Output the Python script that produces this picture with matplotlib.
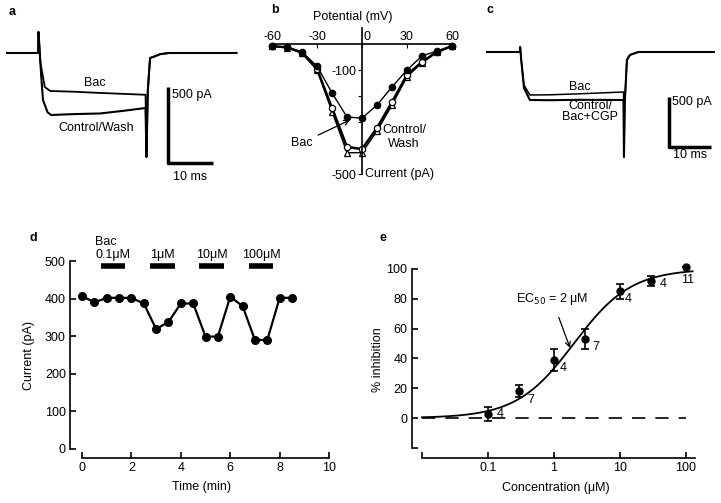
import numpy as np
import matplotlib
matplotlib.use("Agg")
import matplotlib.pyplot as plt
import matplotlib.transforms as mtransforms

plt.rcParams['font.family'] = ['Liberation Sans', 'DejaVu Sans']
plt.rcParams['font.size'] = 9

# ---- panel a: current traces (ms, pA)
a_t_bac = [0, 6.9, 7.0, 7.4, 8.4, 9.6, 15, 20, 25, 30.8, 31.0, 31.3, 31.8, 32.6, 34, 36, 51]
a_i_bac = [0, 0, 138, -60, -224, -250, -255, -262, -268, -275, -684, -250, -33, -25, -8, 0, 0]
a_t_ctl = [0, 6.9, 7.0, 7.6, 8.0, 9.0, 9.8, 15, 20.7, 26, 30.8, 31.0, 31.3, 31.8, 32.6, 34, 36, 51]
a_i_ctl = [0, 0, 138, -150, -309, -390, -408, -402, -398, -380, -362, -684, -250, -33, -25, -8, 0, 0]

# ---- panel c: current traces (ms, pA)
c_t_bac = [0, 7.8, 7.9, 8.1, 8.8, 10.2, 15, 22, 32.5, 32.6, 32.8, 33.3, 34, 36, 54]
c_i_bac = [0, 0, 50, -60, -330, -430, -428, -418, -400, -1050, -500, -80, -30, 0, 0]
c_t_ctl = [0, 7.8, 7.9, 8.1, 8.8, 10.2, 15, 22, 32.5, 32.6, 32.8, 33.3, 34, 36, 54]
c_i_ctl = [0, 0, 50, -60, -360, -480, -482, -478, -480, -1050, -500, -80, -30, 0, 0]

# ---- panel b: I-V relation
potential = [-60, -50, -40, -30, -20, -10, 0, 10, 20, 30, 40, 50, 60]
iv_bac = [-8, -12, -31, -85, -188, -281, -285, -235, -165, -100, -46, -27, -8]
iv_control = [-8, -13, -33, -96, -246, -396, -404, -323, -223, -119, -69, -30, -8]
iv_wash = [-9, -14, -35, -100, -260, -418, -418, -335, -235, -126, -72, -32, -9]

# ---- panel d: time course
time_min = [0, 0.5, 1, 1.5, 2, 2.5, 3, 3.5, 4, 4.5, 5, 5.5, 6, 6.5, 7, 7.5, 8, 8.5]
current_pa = [407, 390, 402, 402, 402, 387, 319, 338, 387, 387, 299, 299, 405, 380, 290, 290, 402, 402]
bar_start = [0.75, 2.75, 4.75, 6.75]
bar_end = [1.75, 3.75, 5.75, 7.75]
bar_labels = ['0.1\u03bcM', '1\u03bcM', '10\u03bcM', '100\u03bcM']

# ---- panel e: concentration-response
conc = [0.1, 0.3, 1, 3, 10, 30, 100]
inhib = [2.7, 18, 39, 53, 85, 92, 101]
inhib_err = [4.5, 4, 7.5, 7, 5, 3.5, 0]
n_cells = ['4', '7', '4', '7', '4', '4', '11']
ec50 = 2.0
hill = 1.0
top = 100.0

W, H = 721, 503
fig = plt.figure(figsize=(W / 100, H / 100), dpi=100)


def px_axes(x0, y0, x1, y1):
    return fig.add_axes([x0 / W, 1 - y1 / H, (x1 - x0) / W, (y1 - y0) / H])


# panel a
ax = px_axes(0, 20, 240, 180)
ax.plot(a_t_ctl, a_i_ctl, color='k', lw=1.5)
ax.plot(a_t_bac, a_i_bac, color='k', lw=1.3)
ax.plot([35.8, 35.8, 45.8], [-224, -724, -724], color='k', lw=2.5, solid_capstyle='butt')
ax.text(19.6, -197, 'Bac', ha='center', va='center')
ax.text(19.8, -493, 'Control/Wash', ha='center', va='center')
ax.text(36.6, -276, '500 pA', ha='left', va='center')
ax.text(40.7, -816, '10 ms', ha='center', va='center')
ax.set_xlim(-1.56, 51.8)
ax.set_ylim(-835.7, 217)
ax.axis('off')

# panel c
ax = px_axes(470, 20, 721, 180)
ax.plot(c_t_ctl, c_i_ctl, color='k', lw=1.5)
ax.plot(c_t_bac, c_i_bac, color='k', lw=1.1)
ax.plot([43.3, 43.3, 53.3], [-450, -950, -950], color='k', lw=2.5, solid_capstyle='butt')
ax.text(22.1, -350, 'Bac', ha='center', va='center')
ax.text(24.5, -540, 'Control/', ha='center', va='center')
ax.text(24.5, -650, 'Bac+CGP', ha='center', va='center')
ax.text(44.1, -500, '500 pA', ha='left', va='center')
ax.text(48.3, -1030, '10 ms', ha='center', va='center')
ax.set_xlim(-4.05, 55.7)
ax.set_ylim(-1280, 320)
ax.axis('off')

# panel b
ax = px_axes(262, 40, 462, 180)
ax.plot(potential, iv_wash, color='k', lw=1.0, marker='^', mfc='white', mec='k', ms=4.5, mew=0.9)
ax.plot(potential, iv_control, color='k', lw=1.8, marker='o', mfc='white', mec='k', ms=4.5, mew=0.9)
ax.plot(potential, iv_bac, color='k', lw=1.0, marker='o', mfc='k', mec='k', ms=4.5)
ax.set_xlim(-66.7, 66.7)
ax.set_ylim(-523, 15.4)
for s in ['right', 'bottom']:
    ax.spines[s].set_visible(False)
ax.spines['top'].set_position(('data', 0))
ax.spines['top'].set_bounds(-60, 60)
ax.spines['left'].set_position(('data', 0))
ax.spines['left'].set_bounds(-500, 60)
ax.spines['top'].set_linewidth(1.2)
ax.spines['left'].set_linewidth(1.2)
ax.xaxis.tick_top()
ax.set_xticks([-60, -30, 0, 30, 60])
ax.set_xticklabels(['-60', '-30', '0', '30', '60'])
ax.tick_params(axis='x', direction='in', length=3, pad=1, labelsize=9)
ax.set_yticks([-500, -400, -300, -200, -100])
ax.set_yticklabels(['-500', '', '', '', '-100'])
ax.tick_params(axis='y', direction='out', length=3, pad=1, labelsize=9)
zero_lbl = ax.get_xticklabels()[2]
zero_lbl.set_transform(zero_lbl.get_transform() + mtransforms.ScaledTranslation(5 / 100, 0, fig.dpi_scale_trans))
fig.text(353 / W, 1 - 17 / H, 'Potential (mV)', ha='center', va='center')
ax.text(2, -500, 'Current (pA)', ha='left', va='center')
ax.annotate('Bac', xy=(-8, -292), xytext=(-40, -380), ha='center', va='center',
            arrowprops=dict(arrowstyle='->', color='k', lw=0.9, shrinkA=2, shrinkB=0))
ax.text(28, -330, 'Control/', ha='center', va='center')
ax.text(28, -385, 'Wash', ha='center', va='center')
ax.set_facecolor('none')

# panel d
ax = px_axes(70, 253.5, 334, 458)
ax.plot(time_min, current_pa, color='k', lw=1.6, marker='o', ms=5.5)
for x0, x1, lbl in zip(bar_start, bar_end, bar_labels):
    ax.plot([x0, x1], [488, 488], color='k', lw=4, solid_capstyle='butt', clip_on=False)
    ax.text((x0 + x1) / 2, 516, lbl, ha='center', va='center', clip_on=False)
ax.text(0.53, 550, 'Bac', ha='left', va='center', clip_on=False)
ax.set_xlim(-0.486, 10.2)
ax.set_ylim(-24, 520)
for s in ['right', 'top']:
    ax.spines[s].set_visible(False)
ax.spines['left'].set_bounds(0, 500)
ax.spines['bottom'].set_bounds(0, 10)
ax.spines['left'].set_linewidth(1.2)
ax.spines['bottom'].set_linewidth(1.2)
ax.set_xticks([0, 2, 4, 6, 8, 10])
ax.set_yticks([0, 100, 200, 300, 400, 500])
ax.tick_params(direction='in', length=4, width=1.2, labelsize=9, pad=3)
ax.set_xlabel('Time (min)', labelpad=5)
ax.set_ylabel('Current (pA)', labelpad=7)
ax.set_facecolor('none')

# panel e
ax = px_axes(411.7, 261.5, 700, 458)
xs = np.logspace(-2, 2.1, 200)
ax.plot(xs, top / (1 + (ec50 / xs) ** hill), color='k', lw=1.3)
ax.plot([0.01, 100], [0, 0], color='k', lw=1.2, dashes=(8, 6))
ax.errorbar(conc, inhib, yerr=inhib_err, fmt='o', color='k', ms=5, capsize=3, elinewidth=1.2, capthick=1.2)
offsets = [(9, 0), (8, -9), (6, -8), (7, -8), (5, -8), (8, -3), (2, -13)]
for x, y, n, (dx, dy) in zip(conc, inhib, n_cells, offsets):
    ax.annotate(n, xy=(x, y), xytext=(dx * 0.72, dy * 0.72), textcoords='offset points',
                ha='left' if n != '11' else 'center', va='center')
ax.annotate('EC$_{50}$ = 2 \u03bcM', xy=(1.75, 47), xytext=(0.93, 80), ha='center', va='center',
            arrowprops=dict(arrowstyle='->', color='k', lw=0.9, shrinkA=6, shrinkB=0))
ax.set_xscale('log')
ax.set_xlim(0.00698, 163)
ax.set_ylim(-26.8, 105)
for s in ['right', 'top']:
    ax.spines[s].set_visible(False)
ax.spines['left'].set_bounds(-20, 100)
ax.spines['bottom'].set_bounds(0.01, 135)
ax.spines['left'].set_linewidth(1.2)
ax.spines['bottom'].set_linewidth(1.2)
ax.set_xticks([0.01, 0.1, 1, 10, 100])
ax.set_xticklabels(['', '0.1', '1', '10', '100'])
ax.xaxis.set_minor_locator(matplotlib.ticker.NullLocator())
ax.set_yticks([-20, 0, 20, 40, 60, 80, 100])
ax.set_yticklabels(['', '0', '20', '40', '60', '80', '100'])
ax.tick_params(direction='in', length=4, width=1.2, labelsize=9, pad=3)
ax.set_xlabel('Concentration (\u03bcM)', labelpad=6)
ax.set_ylabel('% inhibition', labelpad=2)
ax.set_facecolor('none')

# panel letters
for x, y, s in [(12, 12, 'a'), (275, 10, 'b'), (490, 10, 'c'), (33, 238, 'd'), (383, 238, 'e')]:
    fig.text(x / W, 1 - y / H, s, ha='center', va='center', fontweight='bold', fontsize=9)

fig.savefig('out.png', dpi=100)
